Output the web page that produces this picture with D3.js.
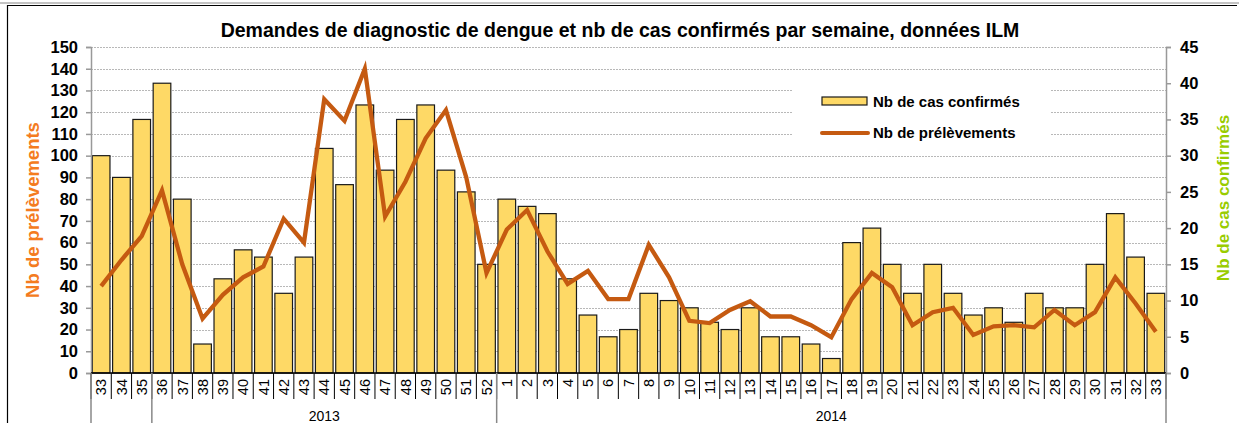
<!DOCTYPE html>
<html>
<head>
<meta charset="utf-8">
<script src="https://cdn.jsdelivr.net/npm/d3@7"></script>
<style>
  body { margin: 0; background: #fff; }
  svg { font-family: "Liberation Sans", Arial, sans-serif; display: block; }
</style>
</head>
<body>
<script>
// weeks (2013 wk 33 -> 2014 wk 33)
var weeks = ["33","34","35","36","37","38","39","40","41","42","43","44","45","46","47","48","49","50","51","52",
  "1","2","3","4","5","6","7","8","9","10","11","12","13","14","15","16","17","18","19","20",
  "21","22","23","24","25","26","27","28","29","30","31","32","33"];

// Nb de cas confirmés (right axis)
var casConfirmes = [30,27,35,40,24,4,13,17,16,11,16,31,26,37,28,35,37,28,25,15,
  24,23,22,13,8,5,6,11,10,9,7,6,9,5,5,4,2,18,20,15,
  11,15,11,8,9,7,11,9,9,15,22,16,11];

// Nb de prélèvements (left axis)
var prelevements = [40,52,63,84,50,25,36,44,49,71,60,126,116,140,72,88,108,121,90,46,
  66,75,56,41,47,34,34,59,44,24,23,29,33,26,26,22,16.5,34,46,39.5,
  22,28,30,17.5,21.5,22,21,29,22,28,44,32,19];

// year groups: [label, first index, last index]
var years = [["",0,2],["2013",3,19],["2014",20,52]];

var leftTicks = d3.range(0, 151, 10);
var rightTicks = d3.range(0, 46, 5);

var svgWidth = 1239, svgHeight = 423;
var plot = {left: 91, right: 1166, top: 47, bottom: 373};

var svg = d3.select("body").append("svg")
  .attr("width", svgWidth)
  .attr("height", svgHeight);

// frame
svg.append("line").attr("x1", 0).attr("x2", svgWidth).attr("y1", 3).attr("y2", 3)
  .attr("stroke", "#888").attr("stroke-width", 1);
svg.append("line").attr("x1", 7).attr("x2", 1237).attr("y1", 5.5).attr("y2", 5.5)
  .attr("stroke", "#000").attr("stroke-width", 1.2);
svg.append("line").attr("x1", 7.5).attr("x2", 7.5).attr("y1", 5).attr("y2", svgHeight)
  .attr("stroke", "#000").attr("stroke-width", 1.2);

// scales
var x = d3.scaleBand()
  .domain(d3.range(weeks.length))
  .range([plot.left, plot.right])
  .paddingInner(0.13)
  .paddingOuter(0.065);
var xEdge = function(i) { return plot.left + i * (plot.right - plot.left) / weeks.length; };

var yLeft = d3.scaleLinear().domain([0, 150]).range([plot.bottom, plot.top]);
var yRight = d3.scaleLinear().domain([0, 45]).range([plot.bottom, plot.top]);

// gridlines
svg.append("g").selectAll("line")
  .data(leftTicks.slice(1))
  .enter().append("line")
  .attr("x1", plot.left).attr("x2", plot.right)
  .attr("y1", d => Math.round(yLeft(d)) + 0.5)
  .attr("y2", d => Math.round(yLeft(d)) + 0.5)
  .attr("stroke", "#b8b8b8")
  .attr("stroke-dasharray", "2,1");

// legend background (covers gridlines)
svg.append("rect")
  .attr("x", 793).attr("y", 78).attr("width", 257).attr("height", 66)
  .attr("fill", "#fff");

// bars
svg.append("g").selectAll("rect")
  .data(casConfirmes)
  .enter().append("rect")
  .attr("x", (d, i) => x(i))
  .attr("y", d => yRight(d))
  .attr("width", x.bandwidth())
  .attr("height", d => plot.bottom - yRight(d))
  .attr("fill", "#fed966")
  .attr("stroke", "#1a1a1a")
  .attr("stroke-width", 1.2);

// line
var line = d3.line()
  .x((d, i) => x(i) + x.bandwidth() / 2)
  .y(d => yLeft(d));
svg.append("path")
  .datum(prelevements)
  .attr("d", line)
  .attr("fill", "none")
  .attr("stroke", "#c55a11")
  .attr("stroke-width", 4.3)
  .attr("stroke-linejoin", "miter");

// left axis
var leftAxis = d3.axisLeft(yLeft).tickValues(leftTicks).tickSize(5).tickPadding(8);
var gL = svg.append("g").attr("transform", `translate(${plot.left},0)`).call(leftAxis);
gL.select(".domain").attr("stroke", "#999").attr("stroke-width", 1.5);
gL.selectAll(".tick line").attr("stroke", "#999").attr("stroke-width", 1.5);
gL.selectAll("text").attr("font-size", "16.5px").attr("font-weight", "bold")
  .attr("fill", "#000").attr("font-family", "Liberation Sans, Arial, sans-serif");

// right axis
var rightAxis = d3.axisRight(yRight).tickValues(rightTicks).tickSize(5).tickPadding(9);
var gR = svg.append("g").attr("transform", `translate(${plot.right},0)`).call(rightAxis);
gR.select(".domain").attr("stroke", "#999").attr("stroke-width", 1.5);
gR.selectAll(".tick line").attr("stroke", "#999").attr("stroke-width", 1.5);
gR.selectAll("text").attr("font-size", "16.5px").attr("font-weight", "bold")
  .attr("fill", "#000").attr("font-family", "Liberation Sans, Arial, sans-serif");

// x axis baseline
svg.append("line")
  .attr("x1", plot.left).attr("x2", plot.right)
  .attr("y1", plot.bottom).attr("y2", plot.bottom)
  .attr("stroke", "#000").attr("stroke-width", 1.5);

// week separators
svg.append("g").selectAll("line")
  .data(d3.range(weeks.length + 1))
  .enter().append("line")
  .attr("x1", i => xEdge(i)).attr("x2", i => xEdge(i))
  .attr("y1", plot.bottom).attr("y2", 399)
  .attr("stroke", "#000").attr("stroke-width", 1);

// week labels
svg.append("g").selectAll("text")
  .data(weeks)
  .enter().append("text")
  .attr("transform", (d, i) => `translate(${x(i) + x.bandwidth() / 2},379) rotate(-90)`)
  .attr("dy", "0.36em")
  .attr("text-anchor", "end")
  .attr("font-size", "14.5px")
  .text(d => d);

// year separators + labels
var yearEdges = [0].concat(years.map(d => d[2] + 1));
svg.append("g").selectAll("line")
  .data(yearEdges)
  .enter().append("line")
  .attr("x1", i => xEdge(i)).attr("x2", i => xEdge(i))
  .attr("y1", plot.bottom).attr("y2", svgHeight)
  .attr("stroke", "#888").attr("stroke-width", 1.5);

svg.append("g").selectAll("text")
  .data(years)
  .enter().append("text")
  .attr("x", d => (xEdge(d[1]) + xEdge(d[2] + 1)) / 2)
  .attr("y", 421)
  .attr("text-anchor", "middle")
  .attr("font-size", "14px")
  .text(d => d[0]);

// title
svg.append("text")
  .attr("x", 620).attr("y", 37)
  .attr("text-anchor", "middle")
  .attr("font-size", "19.5px")
  .attr("font-weight", "bold")
  .text("Demandes de diagnostic de dengue et nb de cas confirmés par semaine, données ILM");

// axis titles
svg.append("text")
  .attr("transform", "translate(39,210) rotate(-90)")
  .attr("text-anchor", "middle")
  .attr("font-size", "18.5px")
  .attr("font-weight", "bold")
  .attr("fill", "#f47b20")
  .text("Nb de prélèvements");

svg.append("text")
  .attr("transform", "translate(1229,198) rotate(-90)")
  .attr("text-anchor", "middle")
  .attr("font-size", "17px")
  .attr("font-weight", "bold")
  .attr("fill", "#99cc00")
  .text("Nb de cas confirmés");

// legend
var legend = svg.append("g");
legend.append("rect")
  .attr("x", 822).attr("y", 97).attr("width", 45).attr("height", 8)
  .attr("fill", "#fed966").attr("stroke", "#1a1a1a").attr("stroke-width", 1.2);
legend.append("text")
  .attr("x", 873).attr("y", 107)
  .attr("font-size", "15px").attr("font-weight", "bold")
  .text("Nb de cas confirmés");
legend.append("line")
  .attr("x1", 822).attr("x2", 868).attr("y1", 133).attr("y2", 133)
  .attr("stroke", "#c55a11").attr("stroke-width", 4).attr("stroke-linecap", "round");
legend.append("text")
  .attr("x", 873).attr("y", 138)
  .attr("font-size", "15px").attr("font-weight", "bold")
  .text("Nb de prélèvements");
</script>
</body>
</html>
